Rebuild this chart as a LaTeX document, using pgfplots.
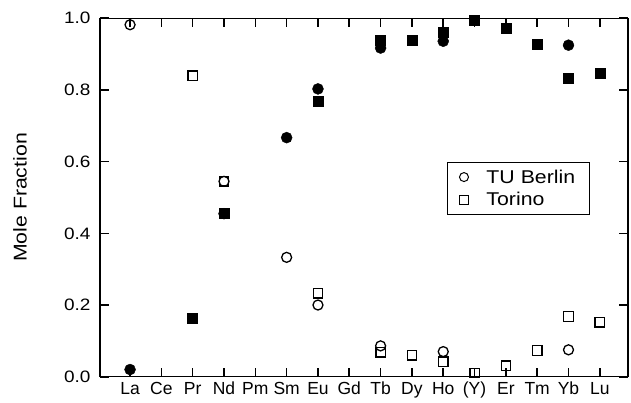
\documentclass[border=0pt]{standalone}
\usepackage{fontspec}
\setmainfont{Liberation Sans}
\newfontfamily\widefont{Liberation Sans}[FakeStretch=1.15]
\usepackage{pgfplots}
\pgfplotsset{compat=1.18}

\begin{document}
\begin{tikzpicture}
\path[use as bounding box] (-100pt,-25.3pt) rectangle (531pt,376.7pt);
\begin{axis}[
  at={(0,0)}, anchor=south west,
  scale only axis, width=528pt, height=358.4pt,
  xmin=-0.96, xmax=15.9, ymin=0, ymax=1.0,
  clip=false,
  xtick={0,...,15},
  xticklabels={La,Ce,Pr,Nd,Pm,Sm,Eu,Gd,Tb,Dy,Ho,(Y),Er,Tm,Yb,Lu},
  ytick={0,0.2,0.4,0.6,0.8,1.0},
  yticklabel style={/pgf/number format/fixed, /pgf/number format/fixed zerofill,
    /pgf/number format/precision=1, xshift=-6pt, font=\widefont\fontsize{16.5}{18}\selectfont},
  /pgf/number format/assume math mode=true,
  xtick pos=both, ytick pos=both,
  tick align=inside,
  major tick length=9pt,
  axis line style={line width=1.5pt},
  every major tick/.append style={draw=black, line width=1.6pt},
  xticklabel style={yshift=-2pt, font=\fontsize{17.5}{19}\selectfont},
  ylabel={Mole Fraction},
  ylabel style={font=\widefont\fontsize{18.5}{20}\selectfont, at={(axis description cs:-0.1515,0.5)}, anchor=center},
  legend style={at={(0.657,0.599)}, anchor=north west, draw=black, line width=1.2pt,
    font=\widefont\fontsize{18.5}{20}\selectfont, row sep=4pt, inner xsep=12pt, inner ysep=5pt},
  legend cell align=left,
  legend image post style={mark size=4.5pt, mark options={line width=1pt}},
]
% TU Berlin, open circles
\addplot[only marks, mark=o, mark size=5pt, mark options={line width=1.3pt}] coordinates {
  (0,0.982) (3,0.545) (5,0.333) (6,0.200) (8,0.086) (10,0.070) (14,0.075)
};
\addlegendentry{\hspace{16pt}TU Berlin\hspace{-10pt}}
% Torino, open squares
\addplot[only marks, mark=square, mark size=4.7pt, mark options={line width=1.3pt}] coordinates {
  (2,0.840) (3,0.545) (6,0.233) (8,0.068) (9,0.060) (10,0.042) (11,0.010)
  (12,0.031) (13,0.073) (14,0.168) (15,0.152)
};
\addlegendentry{\hspace{16pt}Torino}
% TU Berlin, filled circles
\addplot[only marks, mark=*, mark size=5.5pt, forget plot] coordinates {
  (0,0.020) (3,0.455) (5,0.667) (6,0.803) (8,0.917) (10,0.936) (14,0.925)
};
% Torino, filled squares
\addplot[only marks, mark=square*, mark size=5pt, forget plot] coordinates {
  (2,0.163) (3,0.456) (6,0.770) (8,0.940) (9,0.940) (10,0.962) (11,0.994)
  (12,0.973) (13,0.928) (14,0.832) (15,0.847)
};
\end{axis}
\end{tikzpicture}
\end{document}
